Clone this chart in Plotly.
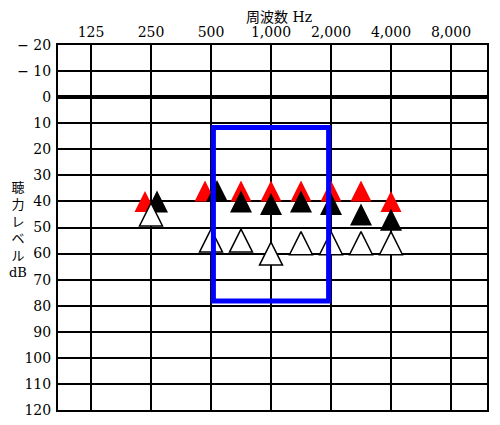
import math
import plotly.graph_objects as go

# ---- data ----
freq_hz = [250, 500, 750, 1000, 1500, 2000, 3000, 4000]
red_db = [40, 36, 36, 36, 36, 36, 36, 40]
black_db = [40, 36, 40, 41, 40, 41, 45, 47]
white_db = [45, 55, 55, 60, 56, 56, 56, 56]

axis_freqs = [125, 250, 500, 1000, 2000, 4000, 8000]
axis_labels = ["125", "250", "500", "1,000", "2,000", "4,000", "8,000"]
level_ticks = list(range(-20, 130, 10))
level_labels = ["− 20", "− 10"] + [str(v) for v in range(0, 130, 10)]

# highlighted region: 500–2000 Hz, about 10–80 dB
box_freq = (500, 2000)
box_db = (11.6, 78.2)

# ---- audiogram frequency scale (octaves evenly spaced, half-octaves midway) ----
def fpos(f):
    o = math.floor(math.log2(f / 125) + 1e-9)
    base = 125 * 2 ** o
    return o + (f / base - 1)

W, H = 500, 425
OFF = 8  # page body margin in the browser
# plot area wanted in page pixels: x 58..487, y 45..410
M = dict(l=58 - OFF, r=W + OFF - 487, t=45 - OFF, b=H + OFF - 410)
PW = W - M["l"] - M["r"]
PH = H - M["t"] - M["b"]
y_lo, y_hi = -20, 120
ppd = PH / (y_hi - y_lo)   # pixels per dB

def px_x(page_x):
    return (page_x - OFF - M["l"]) / PW

def px_y(page_y):
    return 1 - (page_y - OFF - M["t"]) / PH

SERIF = "DejaVu Serif, Noto Sans CJK JP"

def tri_trace(values, color, size, line_w, line_c, dx):
    # arrow-up symbol has its apex at the anchor; lift so the triangle is centred on the value
    ys = [v - (size / 2) / ppd for v in values]
    xs = [fpos(f) + d for f, d in zip(freq_hz, dx)]
    return go.Scatter(
        x=xs, y=ys, mode="markers", hoverinfo="skip", showlegend=False,
        marker=dict(symbol="arrow-up", size=size, color=color,
                    line=dict(width=line_w, color=line_c)),
    )

pair_shift = 0.1
red_dx = [-pair_shift if r == b else 0 for r, b in zip(red_db, black_db)]
black_dx = [pair_shift if r == b else 0 for r, b in zip(red_db, black_db)]
zero_dx = [0] * len(freq_hz)

fig = go.Figure()
fig.add_trace(tri_trace(red_db, "#ff0000", 21, 0, "#ff0000", red_dx))
fig.add_trace(tri_trace(black_db, "#000000", 22, 0, "#000000", black_dx))
fig.add_trace(tri_trace(white_db, "#ffffff", 23, 1.5, "#000000", zero_dx))

fig.add_shape(type="rect", xref="x", yref="y",
              x0=fpos(box_freq[0]) + 0.04, x1=fpos(box_freq[1]) - 0.04,
              y0=box_db[0], y1=box_db[1],
              line=dict(color="#0000ff", width=5), fillcolor="rgba(0,0,0,0)",
              layer="above")

fig.update_layout(
    width=W, height=H, margin=dict(M, autoexpand=False),
    paper_bgcolor="white", plot_bgcolor="white",
    font=dict(family=SERIF, size=14, color="black"),
    xaxis=dict(
        range=[-0.55, 6.6], side="top", automargin=False,
        tickvals=[fpos(f) for f in axis_freqs], ticktext=axis_labels,
        showgrid=True, gridcolor="black", gridwidth=1.5,
        zeroline=False, showline=True, linecolor="black", linewidth=2, mirror=True,
        ticks="", tickfont=dict(family=SERIF, size=14), ticklabelstandoff=0,
    ),
    yaxis=dict(
        range=[y_hi, y_lo], automargin=False,
        tickvals=level_ticks, ticktext=level_labels,
        showgrid=True, gridcolor="black", gridwidth=1.5,
        zeroline=True, zerolinecolor="black", zerolinewidth=3.5,
        showline=True, linecolor="black", linewidth=2, mirror=True,
        ticks="", tickfont=dict(family=SERIF, size=14), ticklabelstandoff=2,
    ),
    annotations=[
        dict(text="周波数 Hz", xref="paper", yref="paper",
             x=px_x(279), y=px_y(8),
             xanchor="center", yanchor="top", showarrow=False, borderpad=0,
             font=dict(family=SERIF, size=14)),
        dict(text="聴<br>力<br>レ<br>ベ<br>ル<br>dB", xref="paper", yref="paper",
             x=px_x(18), y=px_y(230),
             xanchor="center", yanchor="middle", showarrow=False, align="center",
             font=dict(family=SERIF, size=13)),
    ],
)

fig.write_html("out.html")
